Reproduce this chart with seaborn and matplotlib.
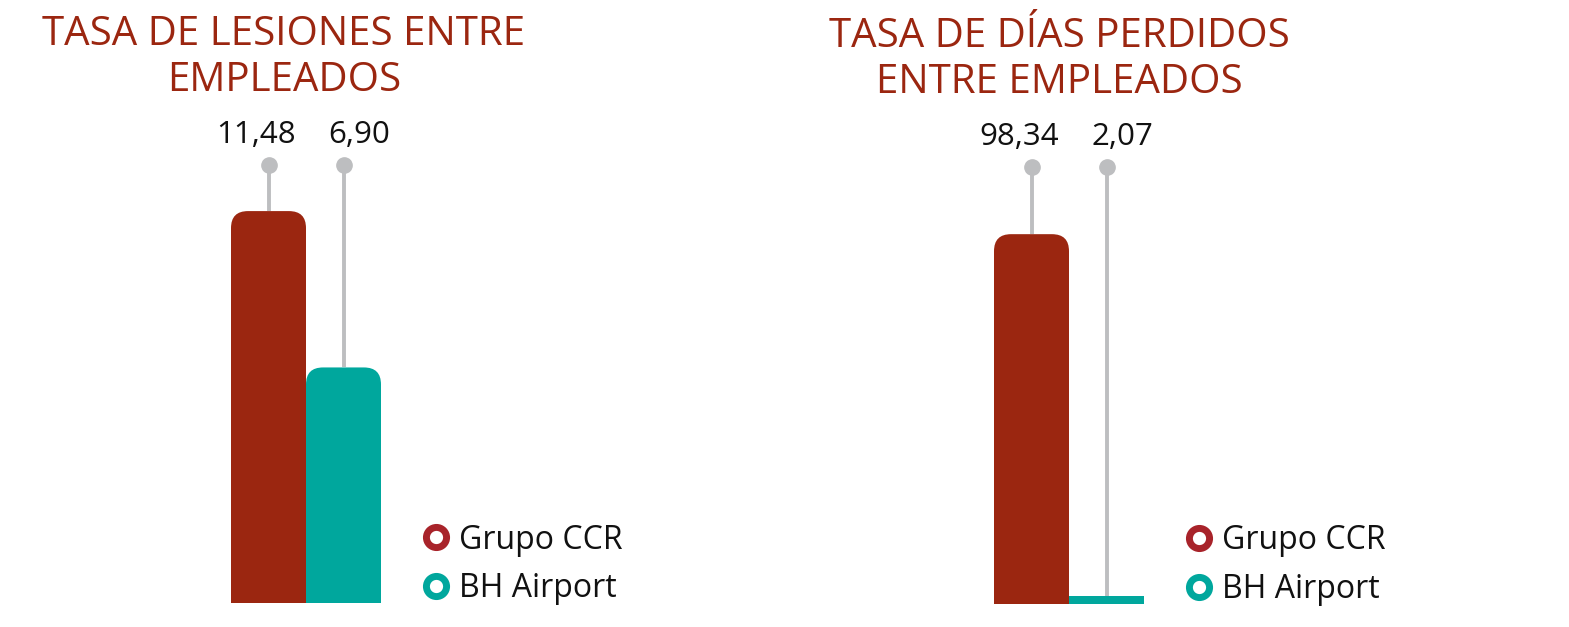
import matplotlib
matplotlib.use("Agg")
import matplotlib.pyplot as plt
from matplotlib.patches import FancyBboxPatch, Rectangle
from matplotlib.lines import Line2D
import pandas as pd
import seaborn as sns

# datos
empresas = ["Grupo CCR", "BH Airport"]
lesiones = [11.48, 6.90]
dias_perdidos = [98.34, 2.07]
titulo_lesiones = ["TASA DE LESIONES ENTRE", "EMPLEADOS"]
titulo_dias = ["TASA DE DÍAS PERDIDOS", "ENTRE EMPLEADOS"]

colores_barra = ["#9B2610", "#00A79D"]
colores_leyenda = ["#A8232A", "#00A79D"]
rojo_titulo = "#9B2610"
gris = "#BDBEC0"
negro = "#111111"

W, H = 1569, 627
sns.set_theme(style="white")
plt.rcParams["font.family"] = ["Open Sans", "DejaVu Sans"]

fig = plt.figure(figsize=(W / 100, H / 100), dpi=100)


def ejes_px(left, right, top, bottom):
    return fig.add_axes([left / W, 1 - bottom / H, (right - left) / W, (bottom - top) / H])


paneles = [
    dict(valores=lesiones, titulo=titulo_lesiones, caja=(231, 381, 165, 603),
         ymax=12.83, tx=284, base=(45, 91), ley=(421, 564.5)),
    dict(valores=dias_perdidos, titulo=titulo_dias, caja=(994, 1144, 167, 604),
         ymax=116.2, tx=1059, base=(47, 93), ley=(1184, 565)),
]

for p in paneles:
    ax = ejes_px(*p["caja"])
    df = pd.DataFrame({"empresa": empresas, "valor": p["valores"]})
    sns.barplot(data=df, x="empresa", y="valor", hue="empresa", palette=colores_barra,
                width=1, saturation=1, linewidth=0, legend=False, ax=ax)
    ax.set_xlim(-0.5, 1.5)
    ax.set_ylim(0, p["ymax"])
    ax.set_axis_off()

    # escala en pixeles para redondear las esquinas de arriba
    x0, y0 = ax.transData.transform((0, 0))
    x1, y1 = ax.transData.transform((1, 1))
    aspect = (x1 - x0) / (y1 - y0)
    r = 17 / (x1 - x0)

    barras = sorted(list(ax.patches), key=lambda b: b.get_x())
    for i, bar in enumerate(barras):
        bx, by, bw, bh = bar.get_x(), bar.get_y(), bar.get_width(), bar.get_height()
        cx = bx + bw / 2
        color = bar.get_facecolor()
        ax.plot([cx, cx], [bh, p["ymax"]], color=gris, lw=2.8, zorder=0, solid_capstyle="butt")
        ax.plot(cx, p["ymax"], "o", color=gris, ms=11, clip_on=False, zorder=1)
        if bh > 2 * r * aspect:
            bar.set_visible(False)
            ax.add_patch(FancyBboxPatch((bx, by), bw, bh, boxstyle=f"round,pad=0,rounding_size={r}",
                                        mutation_aspect=aspect, fc=color, ec="none", zorder=2))
            ax.add_patch(Rectangle((bx, by), bw, bh - r * aspect, fc=color, ec="none", zorder=2))

        texto = f"{p['valores'][i]:.2f}".replace(".", ",")
        if i == 0:
            dx, ha = 20, "right"
        else:
            dx, ha = -10.8, "left"
        ax.annotate(texto, (cx, p["ymax"]), xytext=(dx, 16), textcoords="offset points",
                    ha=ha, va="baseline", fontsize=22.5, color=negro, annotation_clip=False)

    # titulo
    for linea, b in zip(p["titulo"], p["base"]):
        fig.text(p["tx"] / W, 1 - b / H, linea, ha="center", va="baseline",
                 fontsize=29, color=rojo_titulo)

    # leyenda
    handles = [Line2D([], [], ls="none", marker="o", ms=14.5, mfc="white", mec=c, mew=5)
               for c in colores_leyenda]
    lx, ly = p["ley"]
    fig.legend(handles, empresas, loc="center left", bbox_to_anchor=(lx / W, 1 - ly / H),
               frameon=False, fontsize=23, labelcolor=negro, handlelength=0.95,
               handletextpad=0.25, labelspacing=0.5, borderpad=0, borderaxespad=0)

fig.savefig("out.png", dpi=100)
